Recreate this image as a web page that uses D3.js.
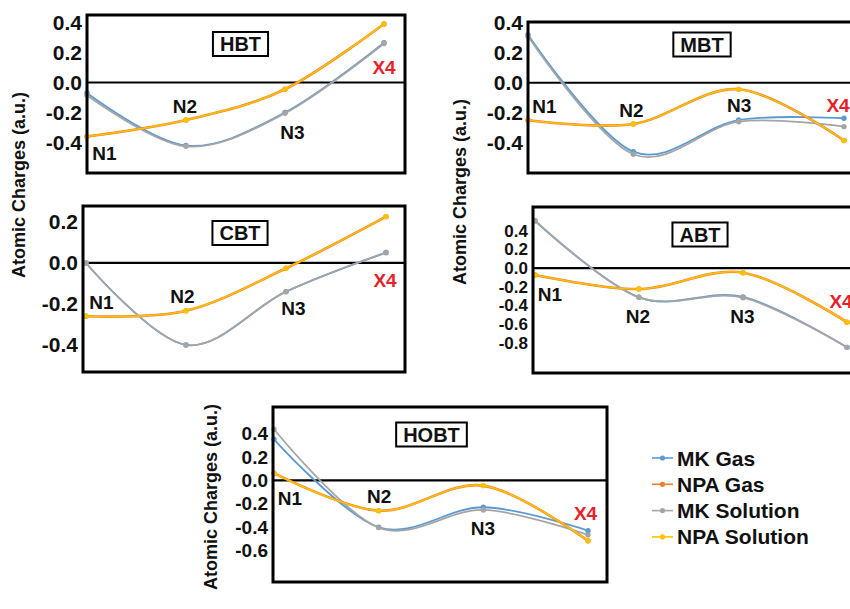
<!DOCTYPE html>
<html>
<head>
<meta charset="utf-8">
<script src="https://cdn.jsdelivr.net/npm/d3@7"></script>
<style>
body{margin:0;background:#fff}
svg{display:block;font-family:"Liberation Sans",Arial,sans-serif;font-weight:bold}
</style>
</head>
<body>
<svg></svg>
<script>
//atoms along the ring and the four series
var categories = ["N1","N2","N3","X4"];
var seriesNames = ["MK Gas","NPA Gas","MK Solution","NPA Solution"];
var seriesColors = ["#5b9bd5","#ed7d31","#a5a5a5","#ffc000"];
var seriesWidths = [1.8,2.6,1.8,1.6];

//HBT
var hbtMkGas  = [-0.07,-0.42,-0.20,0.265];
var hbtNpaGas = [-0.36,-0.25,-0.045,0.39];
var hbtMkSol  = [-0.085,-0.425,-0.205,0.26];
var hbtNpaSol = [-0.36,-0.25,-0.045,0.39];
var hbtTicks  = [0.4,0.2,0.0,-0.2,-0.4];

//MBT
var mbtMkGas  = [0.32,-0.46,-0.249,-0.237];
var mbtNpaGas = [-0.25,-0.275,-0.044,-0.385];
var mbtMkSol  = [0.31,-0.477,-0.26,-0.293];
var mbtNpaSol = [-0.25,-0.275,-0.044,-0.385];
var mbtTicks  = [0.4,0.2,0.0,-0.2,-0.4];

//CBT
var cbtMkGas  = [0.0,-0.40,-0.14,0.05];
var cbtNpaGas = [-0.26,-0.233,-0.026,0.226];
var cbtMkSol  = [0.0,-0.40,-0.14,0.052];
var cbtNpaSol = [-0.26,-0.233,-0.026,0.226];
var cbtTicks  = [0.2,0.0,-0.2,-0.4];

//ABT
var abtMkGas  = [0.507,-0.314,-0.31,-0.85];
var abtNpaGas = [-0.075,-0.225,-0.05,-0.58];
var abtMkSol  = [0.507,-0.314,-0.318,-0.85];
var abtNpaSol = [-0.075,-0.225,-0.05,-0.58];
var abtTicks  = [0.4,0.2,0.0,-0.2,-0.4,-0.6,-0.8];

//HOBT
var hobtMkGas  = [0.352,-0.40,-0.229,-0.429];
var hobtNpaGas = [0.062,-0.258,-0.044,-0.515];
var hobtMkSol  = [0.438,-0.403,-0.252,-0.466];
var hobtNpaSol = [0.062,-0.258,-0.044,-0.515];
var hobtTicks  = [0.4,0.2,0.0,-0.2,-0.4,-0.6];

//layout of each panel (pixels), kept apart from the data
var panels = [
  {name:"HBT", series:[hbtMkGas,hbtNpaGas,hbtMkSol,hbtNpaSol], ticks:hbtTicks,
   frame:{x0:87,x1:405,y0:15,y1:173}, pts:[87,384], domain:[-0.603,0.45],
   title:{x:240.5,y:44}, labelDx:[17.5,-1,7.5,0], labelY:[160,113,139,74], tickSize:21},
  {name:"MBT", series:[mbtMkGas,mbtNpaGas,mbtMkSol,mbtNpaSol], ticks:mbtTicks,
   frame:{x0:528,x1:866,y0:22,y1:173}, pts:[528,844], domain:[-0.602,0.405],
   title:{x:702,y:44.5}, labelDx:[16.5,-2,0.5,-6], labelY:[113,117,112,112], tickSize:21},
  {name:"CBT", series:[cbtMkGas,cbtNpaGas,cbtMkSol,cbtNpaSol], ticks:cbtTicks,
   frame:{x0:83,x1:405,y0:206,y1:372}, pts:[86,386], domain:[-0.532,0.278],
   title:{x:240,y:233}, labelDx:[15.5,-3.5,7.5,-1], labelY:[309,303,315,287], tickSize:21},
  {name:"ABT", series:[abtMkGas,abtNpaGas,abtMkSol,abtNpaSol], ticks:abtTicks,
   frame:{x0:533,x1:866,y0:207,y1:373}, pts:[535,847], domain:[-1.125,0.654],
   title:{x:700,y:234.5}, labelDx:[15,-1,-0.5,-6], labelY:[301,323,323,308], tickSize:17},
  {name:"HOBT", series:[hobtMkGas,hobtNpaGas,hobtMkSol,hobtNpaSol], ticks:hobtTicks,
   frame:{x0:273,x1:607,y0:407,y1:582}, pts:[274,588], domain:[-0.868,0.628],
   title:{x:431.5,y:434.5}, labelDx:[16,0.5,-0.5,-2.5], labelY:[505,503,535,520], tickSize:19}
];

//rotated axis titles
var yTitles = [{x:25,y:185},{x:466,y:192},{x:217,y:497}];

var svg = d3.select("svg").attr("width",850).attr("height",609);

var fmt = function(d){return d3.format(".1f")(d).replace("\u2212","-");}

var drawPanel = function(p)
{
    var g = svg.append("g");
    var xScale = d3.scalePoint().domain(categories).range(p.pts);
    var yScale = d3.scaleLinear().domain(p.domain).range([p.frame.y1,p.frame.y0]);

    //tick labels only
    var axis = g.append("g")
        .attr("transform","translate("+p.frame.x0+",0)")
        .call(d3.axisLeft(yScale).tickValues(p.ticks).tickSize(0).tickPadding(5)
              .tickFormat(fmt));
    axis.select(".domain").remove();
    axis.selectAll("text")
        .attr("font-family","'Liberation Sans',Arial,sans-serif")
        .attr("font-weight","bold")
        .attr("font-size",p.tickSize)
        .attr("fill","#111");

    //zero line
    g.append("line")
        .attr("x1",p.frame.x0).attr("x2",p.frame.x1)
        .attr("y1",yScale(0)).attr("y2",yScale(0))
        .attr("stroke","#000").attr("stroke-width",2.2);

    var line = d3.line()
        .x(function(d,i){return xScale(categories[i]);})
        .y(function(d){return yScale(d);})
        .curve(d3.curveCardinal.tension(0));

    p.series.forEach(function(vals,si)
    {
        g.append("path")
            .attr("d",line(vals))
            .attr("fill","none")
            .attr("stroke",seriesColors[si])
            .attr("stroke-width",seriesWidths[si]);
        g.selectAll(".pt"+si)
            .data(vals)
            .enter()
            .append("circle")
            .attr("class","pt"+si)
            .attr("cx",function(d,i){return xScale(categories[i]);})
            .attr("cy",function(d){return yScale(d);})
            .attr("r",2.7)
            .attr("fill",seriesColors[si]);
    });

    //atom labels
    g.selectAll(".atom")
        .data(categories)
        .enter()
        .append("text")
        .attr("class","atom")
        .attr("x",function(d,i){return xScale(d)+p.labelDx[i];})
        .attr("y",function(d,i){return p.labelY[i];})
        .attr("text-anchor","middle")
        .attr("font-size",19)
        .attr("fill",function(d){return d=="X4" ? "#e8202a" : "#111";})
        .text(function(d){return d;});

    //frame
    g.append("rect")
        .attr("x",p.frame.x0).attr("y",p.frame.y0)
        .attr("width",p.frame.x1-p.frame.x0)
        .attr("height",p.frame.y1-p.frame.y0)
        .attr("fill","none").attr("stroke","#000").attr("stroke-width",3);

    //title box
    var box = g.append("rect");
    var t = g.append("text")
        .attr("x",p.title.x).attr("y",p.title.y+7)
        .attr("text-anchor","middle")
        .attr("font-size",20)
        .attr("fill","#111")
        .text(p.name);
    var bb = t.node().getBBox();
    box.attr("x",bb.x-7).attr("y",p.title.y-12)
        .attr("width",bb.width+14).attr("height",24)
        .attr("fill","#fff").attr("stroke","#000").attr("stroke-width",2);
}

panels.forEach(drawPanel);

yTitles.forEach(function(t)
{
    svg.append("text")
        .attr("transform","translate("+t.x+","+t.y+") rotate(-90)")
        .attr("text-anchor","middle")
        .attr("font-size",18)
        .attr("fill","#111")
        .text("Atomic Charges (a.u.)");
});

//legend
var legend = svg.append("g").attr("transform","translate(652,458)");
var item = legend.selectAll("g")
    .data(seriesNames)
    .enter()
    .append("g")
    .attr("transform",function(d,i){return "translate(0,"+(i*26.3)+")";});
item.append("line")
    .attr("x1",0).attr("x2",21)
    .attr("stroke",function(d,i){return seriesColors[i];})
    .attr("stroke-width",1.6);
item.append("circle")
    .attr("cx",10.5).attr("r",2.6)
    .attr("fill",function(d,i){return seriesColors[i];});
item.append("text")
    .attr("x",25).attr("y",7.5)
    .attr("font-size",21)
    .attr("fill","#111")
    .text(function(d){return d;});
</script>
</body>
</html>
